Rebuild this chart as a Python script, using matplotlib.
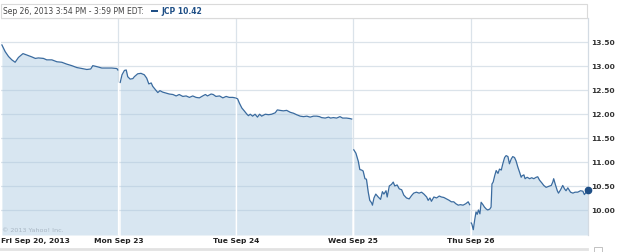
import matplotlib.pyplot as plt
from matplotlib.patches import Rectangle
from matplotlib.lines import Line2D

SESSION = 390  # minutes in a trading day, 9:30 - 16:00

day_labels = ["Fri Sep 20, 2013", "Mon Sep 23", "Tue Sep 24", "Wed Sep 25", "Thu Sep 26"]

# minutes after the open, and price, per trading day
fri_min = [3, 14, 25, 36, 47, 58, 73, 86, 103, 114, 124, 141, 152, 169, 186, 202,
           219, 235, 252, 269, 285, 298, 305, 318, 335, 351, 368, 385, 388]
fri_px = [13.44, 13.30, 13.20, 13.13, 13.08, 13.18, 13.26, 13.23, 13.19, 13.16, 13.17,
          13.16, 13.13, 13.13, 13.09, 13.08, 13.04, 13.01, 12.97, 12.95, 12.93, 12.94,
          13.01, 12.99, 12.96, 12.96, 12.96, 12.95, 12.92]

mon_min = [6, 12, 20, 26, 31, 39, 48, 53, 64, 75, 86, 94, 101, 109, 114, 123, 131, 138,
           147, 158, 169, 181, 192, 202, 214, 225, 236, 247, 258, 269, 280, 289, 296,
           308, 315, 324, 336, 347, 358, 368, 380, 388]
mon_px = [12.66, 12.82, 12.91, 12.92, 12.78, 12.73, 12.74, 12.78, 12.84, 12.85, 12.82,
          12.75, 12.63, 12.65, 12.58, 12.51, 12.45, 12.49, 12.46, 12.44, 12.42, 12.41,
          12.38, 12.41, 12.37, 12.38, 12.35, 12.38, 12.35, 12.34, 12.38, 12.41, 12.38,
          12.42, 12.41, 12.37, 12.38, 12.34, 12.37, 12.35, 12.35, 12.34]

tue_min = [2, 6, 12, 20, 28, 37, 42, 48, 56, 64, 72, 79, 86, 98, 109, 119, 131, 138, 147,
           158, 169, 181, 192, 202, 214, 225, 236, 247, 258, 269, 278, 285, 297, 308,
           315, 324, 335, 346, 355, 368, 379, 385]
tue_px = [12.33, 12.32, 12.23, 12.13, 12.07, 12.00, 11.97, 12.00, 11.96, 12.00, 11.94,
          12.00, 11.96, 12.00, 11.99, 12.00, 12.03, 12.09, 12.08, 12.07, 12.08, 12.04,
          12.02, 11.99, 11.96, 11.95, 11.96, 11.94, 11.96, 11.96, 11.95, 11.93, 11.92,
          11.94, 11.92, 11.93, 11.92, 11.95, 11.92, 11.92, 11.91, 11.90]

wed_min = [2, 9, 17, 22, 28, 33, 39, 44, 50, 55, 61, 64, 69, 75, 83, 91, 97, 102, 109,
           113, 120, 127, 133, 138, 146, 153, 161, 168, 177, 186, 194, 201, 210, 219,
           227, 235, 244, 249, 255, 260, 268, 277, 286, 293, 301, 310, 319, 326, 334,
           341, 349, 356, 365, 374, 382, 387]
wed_px = [11.26, 11.19, 11.02, 10.85, 10.84, 10.82, 10.66, 10.65, 10.38, 10.21, 10.16,
          10.11, 10.26, 10.34, 10.28, 10.23, 10.39, 10.34, 10.41, 10.28, 10.51, 10.54,
          10.59, 10.51, 10.53, 10.45, 10.43, 10.32, 10.26, 10.24, 10.31, 10.36, 10.38,
          10.36, 10.38, 10.34, 10.28, 10.21, 10.26, 10.19, 10.28, 10.26, 10.30, 10.28,
          10.27, 10.24, 10.21, 10.18, 10.18, 10.14, 10.11, 10.12, 10.11, 10.14, 10.18,
          10.12]

thu_min = [2, 4, 9, 13, 18, 22, 26, 31, 35, 41, 46, 52, 57, 64, 68, 71, 75, 80, 85, 91,
           96, 102, 107, 113, 118, 124, 129, 135, 140, 146, 151, 157, 163, 168, 171,
           177, 181, 188, 196, 203, 210, 218, 223, 229, 237, 243, 251, 259, 268, 273,
           276, 281, 288, 292, 299, 306, 312, 317, 323, 332, 340, 347, 356, 365, 373,
           378, 389]
thu_px = [9.74, 9.72, 9.60, 9.78, 9.97, 9.92, 10.01, 9.93, 10.17, 10.12, 10.07, 10.03,
          10.01, 10.03, 10.07, 10.55, 10.59, 10.72, 10.83, 10.77, 10.86, 10.84, 10.97,
          11.10, 11.14, 11.12, 10.97, 11.07, 11.12, 11.10, 11.03, 10.90, 10.79, 10.69,
          10.72, 10.74, 10.66, 10.69, 10.66, 10.68, 10.66, 10.69, 10.70, 10.63, 10.57,
          10.52, 10.48, 10.50, 10.52, 10.59, 10.66, 10.55, 10.41, 10.36, 10.43, 10.52,
          10.45, 10.41, 10.47, 10.38, 10.36, 10.38, 10.38, 10.41, 10.40, 10.33, 10.42]

day_minutes = [fri_min, mon_min, tue_min, wed_min, thu_min]
day_prices = [fri_px, mon_px, tue_px, wed_px, thu_px]

y_ticks = [10.0, 10.5, 11.0, 11.5, 12.0, 12.5, 13.0, 13.5]

LINE = "#3a6b9f"
FILL = "#a9c8e0"
GRID = "#dbe3ea"
YMIN, YMAX = 9.49, 14.0

fig = plt.figure(figsize=(6.25, 2.52), dpi=100)
W, H = 625, 252
ax = fig.add_axes([1 / W, 17 / H, 587 / W, 217 / H])
ax.set_xlim(0, 5 * SESSION)
ax.set_ylim(YMIN, YMAX)

# grid
for v in y_ticks + [YMAX]:
    ax.axhline(v, color=GRID, lw=0.9, zorder=0.5)
for i in range(1, 5):
    ax.axvline(i * SESSION, color=GRID, lw=0.9, zorder=0.5)

# one filled segment per trading day
for i, (mins, prices) in enumerate(zip(day_minutes, day_prices)):
    xs = [i * SESSION + m for m in mins]
    ax.fill_between(xs, prices, YMIN, color=FILL, alpha=0.45, lw=0, zorder=1)
    ax.plot(xs, prices, color=LINE, lw=0.9, zorder=3)

# white day separators inside the filled area
for i in range(1, 5):
    top = min(day_prices[i - 1][-1], day_prices[i][0])
    ax.vlines(i * SESSION, YMIN, top, color="white", lw=1.0, zorder=2)

# last trade marker
ax.plot(4 * SESSION + thu_min[-1], thu_px[-1], "o", ms=4.5, color="#1f4f86",
        zorder=4, clip_on=False)

for s in ["left", "bottom", "top"]:
    ax.spines[s].set_visible(False)
ax.spines["right"].set_color("#d3dbe3")
ax.spines["right"].set_linewidth(0.9)

ax.yaxis.tick_right()
ax.set_yticks(y_ticks, [f"{v:.2f}" for v in y_ticks])
ax.tick_params(axis="y", length=0, pad=2.3, labelsize=5.4, labelcolor="#333333")
ax.set_xticks([i * SESSION for i in range(5)], day_labels)
ax.tick_params(axis="x", length=0, pad=2.0, labelsize=5.4, labelcolor="#222222")
for lab in ax.get_yticklabels() + ax.get_xticklabels():
    lab.set_fontweight("bold")
ax.get_xticklabels()[0].set_horizontalalignment("left")

ax.text(2, YMIN + 0.1, "\u00a9 2013 Yahoo! Inc.", fontsize=4.6, color="#a9b7c4",
        va="center", ha="left", zorder=2)

# header box
fig.add_artist(Rectangle((1 / W, (H - 18) / H), 586 / W, 14 / H, transform=fig.transFigure,
                         facecolor="white", edgecolor="#dadada", lw=0.8))
fig.text(3 / W, (H - 11) / H, "Sep 26, 2013 3:54 PM - 3:59 PM EDT:", fontsize=5.5,
         color="#444444", va="center", ha="left")
fig.add_artist(Rectangle((151 / W, (H - 12.3) / H), 6.5 / W, 2.5 / H,
                         transform=fig.transFigure, facecolor="#1f4f86", lw=0))
fig.text(161.5 / W, (H - 11) / H, "JCP 10.42", fontsize=5.5, fontweight="bold",
         color="#1f4f86", va="center", ha="left")

# bottom slider strip
fig.add_artist(Line2D([0, 587 / W], [3 / H, 3 / H], transform=fig.transFigure,
                      color="#e2e2e2", lw=2.0))
fig.add_artist(Rectangle((594 / W, -1 / H), 8 / W, 6 / H, transform=fig.transFigure,
                         facecolor="white", edgecolor="#b8b8b8", lw=0.6))

fig.savefig("out.png", dpi=100)
plt.close()
